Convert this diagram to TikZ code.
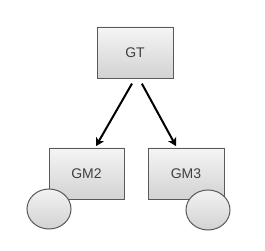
\documentclass[tikz,border=0pt]{standalone}
\usepackage{fontspec}
\setmainfont{Liberation Sans}
\usetikzlibrary{arrows.meta,shapes.geometric}
\begin{document}
\begin{tikzpicture}[x=1pt,y=-1pt,
  box/.style={draw=gray!70!black, line width=0.8pt, top color=gray!8, bottom color=gray!35,
    minimum width=76pt, minimum height=51pt, inner sep=0pt, text=black!75, font=\fontsize{14}{16}\selectfont},
  blob/.style={ellipse, draw=gray!70!black, line width=1pt, top color=gray!10, bottom color=gray!35,
    minimum width=44pt, minimum height=40pt, inner sep=0pt},
  link/.style={line width=2pt, shorten <=6pt, -{Stealth[length=8pt,width=9pt,inset=2pt]}}]
\useasboundingbox (0,0) rectangle (265,251);
\fill[white] (0,0) rectangle (265,251);
\node[box] (gt) at (135,52.5) {GT};
\node[box, minimum width=75pt] (gm2) at (86.5,173.5) {GM2};
\node[box] (gm3) at (186,173.5) {GM3};
\node[blob] (c2) at (49,209) {};
\node[blob] (c3) at (208,210) {};
\draw[link] (gt.south) -- ([xshift=9.5pt,yshift=1.5pt]gm2.north);
\draw[link] ([xshift=4pt]gt.south) -- ([xshift=-10pt,yshift=1.5pt]gm3.north);
\end{tikzpicture}
\end{document}
